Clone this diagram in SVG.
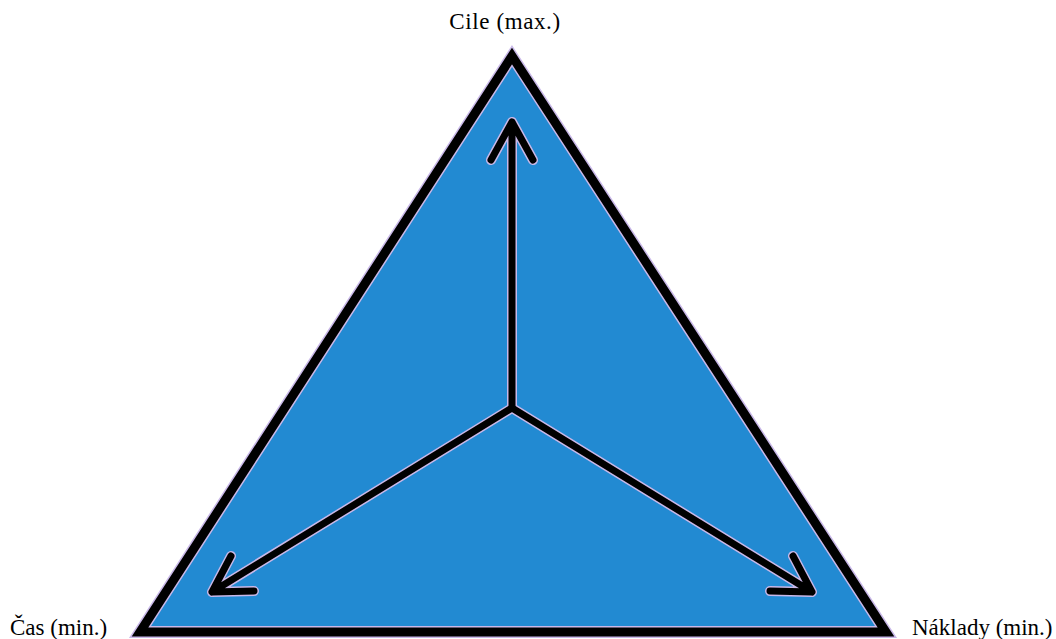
<svg xmlns="http://www.w3.org/2000/svg" width="1056" height="639" viewBox="0 0 1056 639">
<style>
.lbl{font-family:"Liberation Serif","Times New Roman","DejaVu Serif",serif;font-size:23px;fill:#000}
.halo{fill:none;stroke:#c9b8e8;stroke-width:10;stroke-linecap:round;stroke-linejoin:round}
.ink{fill:none;stroke:#000;stroke-width:7;stroke-linecap:round;stroke-linejoin:round}
</style>
<rect width="1056" height="639" fill="#fff"/>
<g id="triangle">
<polygon points="512,56 140,632 886,632" fill="#228ad2" stroke="#c9b8e8" stroke-width="12" stroke-linejoin="miter"/>
<polygon points="512,56 140,632 886,632" fill="none" stroke="#000" stroke-width="9" stroke-linejoin="miter"/>
</g>
<g id="connectors">
<path class="halo" d="M512,408 L512,122 M491,160 L512,122 L533,160"/>
<path class="halo" d="M512,408 L212,592 M231,556 L212,592 L254,591"/>
<path class="halo" d="M512,408 L812,592 M793,556 L812,592 L770,591"/>
<path class="ink" d="M512,408 L512,122 M491,160 L512,122 L533,160"/>
<path class="ink" d="M512,408 L212,592 M231,556 L212,592 L254,591"/>
<path class="ink" d="M512,408 L812,592 M793,556 L812,592 L770,591"/>
</g>
<g id="label-cile"><text class="lbl" x="505" y="29" text-anchor="middle" letter-spacing="0.6">Cile (max.)</text></g>
<g id="label-cas"><text class="lbl" x="10" y="635">Čas (min.)</text></g>
<g id="label-naklady"><text class="lbl" x="912" y="635">Náklady (min.)</text></g>
</svg>
